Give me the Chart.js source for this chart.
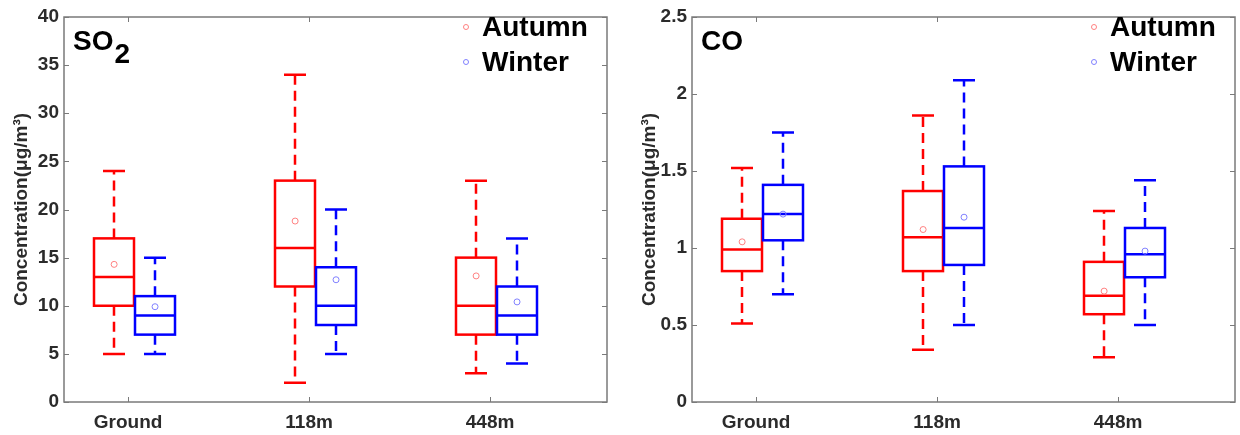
<!DOCTYPE html>
<html>
<head>
<meta charset="utf-8">
<title>SO2 / CO box plots</title>
<script src="https://cdn.jsdelivr.net/npm/chart.js@4.4.1/dist/chart.umd.min.js"></script>
<style>
  body { margin: 0; background: #fff; }
  .panel { position: absolute; top: 0; }
</style>
</head>
<body>
<canvas id="so2Chart" class="panel" width="620" height="435" style="left:0"></canvas>
<canvas id="coChart" class="panel" width="620" height="435" style="left:620px"></canvas>
<script>
  'use strict';

  var sites = ['Ground', '118m', '448m'];
  var seasons = ['Autumn', 'Winter'];

  // box stats per site: [min, q1, median, q3, max]
  var so2Autumn = [[5, 10, 13, 17, 24], [2, 12, 16, 23, 34], [3, 7, 10, 15, 23]];
  var so2Winter = [[5, 7, 9, 11, 15], [5, 8, 10, 14, 20], [4, 7, 9, 12, 17]];
  var so2AutumnMean = [14.3, 18.8, 13.1];
  var so2WinterMean = [9.9, 12.7, 10.4];
  var so2Ticks = [0, 5, 10, 15, 20, 25, 30, 35, 40];

  var coAutumn = [[0.51, 0.85, 0.99, 1.19, 1.52], [0.34, 0.85, 1.07, 1.37, 1.86], [0.29, 0.57, 0.69, 0.91, 1.24]];
  var coWinter = [[0.70, 1.05, 1.22, 1.41, 1.75], [0.50, 0.89, 1.13, 1.53, 2.09], [0.50, 0.81, 0.96, 1.13, 1.44]];
  var coAutumnMean = [1.04, 1.12, 0.72];
  var coWinterMean = [1.22, 1.20, 0.98];
  var coTicks = [0, 0.5, 1, 1.5, 2, 2.5];

  var FONT = '"Liberation Sans", Arial, Helvetica, sans-serif';
  var TEXT = '#2b2b2b';
  var AXIS = '#7a7a7a';

  // box drawing: whiskers dashed, caps and boxes solid
  var boxPlugin = {
    id: 'boxes',
    beforeDatasetsDraw: function (chart, args, opts) {
      var ctx = chart.ctx, xs = chart.scales.x, ys = chart.scales.y;
      opts.series.forEach(function (s) {
        s.stats.forEach(function (st, i) {
          var cx = Math.round(xs.getPixelForValue(i + 1 + s.offset));
          var lo = ys.getPixelForValue(st[0]);
          var q1 = ys.getPixelForValue(st[1]);
          var md = ys.getPixelForValue(st[2]);
          var q3 = ys.getPixelForValue(st[3]);
          var hi = ys.getPixelForValue(st[4]);
          ctx.save();
          ctx.strokeStyle = s.color;
          ctx.lineWidth = 2.5;
          ctx.setLineDash([10, 6]);
          ctx.beginPath();
          ctx.moveTo(cx, q3); ctx.lineTo(cx, hi);
          ctx.moveTo(cx, q1); ctx.lineTo(cx, lo);
          ctx.stroke();
          ctx.setLineDash([]);
          ctx.beginPath();
          ctx.moveTo(cx - 11, hi); ctx.lineTo(cx + 11, hi);
          ctx.moveTo(cx - 11, lo); ctx.lineTo(cx + 11, lo);
          ctx.moveTo(cx - 20, md); ctx.lineTo(cx + 20, md);
          ctx.stroke();
          ctx.strokeRect(cx - 20, q3, 40, q1 - q3);
          ctx.restore();
        });
      });
    }
  };

  // axes box with inward ticks on all four sides
  var framePlugin = {
    id: 'frame',
    afterDatasetsDraw: function (chart) {
      var ctx = chart.ctx, a = chart.chartArea;
      var xs = chart.scales.x, ys = chart.scales.y;
      ctx.save();
      ctx.strokeStyle = AXIS;
      ctx.lineWidth = 1.5;
      ctx.strokeRect(a.left, a.top, a.right - a.left, a.bottom - a.top);
      ctx.lineWidth = 1;
      ctx.beginPath();
      ys.ticks.forEach(function (t) {
        var y = Math.round(ys.getPixelForValue(t.value)) + 0.5;
        ctx.moveTo(a.left, y); ctx.lineTo(a.left + 5, y);
        ctx.moveTo(a.right, y); ctx.lineTo(a.right - 5, y);
      });
      xs.ticks.forEach(function (t) {
        var x = Math.round(xs.getPixelForValue(t.value)) + 0.5;
        ctx.moveTo(x, a.top); ctx.lineTo(x, a.top + 5);
        ctx.moveTo(x, a.bottom); ctx.lineTo(x, a.bottom - 5);
      });
      ctx.stroke();
      ctx.restore();
    },
    afterDraw: function (chart, args, opts) {
      var ctx = chart.ctx, a = chart.chartArea;
      ctx.save();
      ctx.fillStyle = '#000';
      ctx.textBaseline = 'alphabetic';
      ctx.font = 'bold 28px ' + FONT;
      ctx.fillText(opts.name, a.left + 9, a.top + 33);
      if (opts.sub) {
        var w = ctx.measureText(opts.name).width;
        ctx.fillText(opts.sub, a.left + 10 + w, a.top + 46);
      }
      // legend
      chart.data.datasets.forEach(function (ds, i) {
        var y = a.top + 10 + i * 35;
        ctx.beginPath();
        ctx.strokeStyle = ds.borderColor;
        ctx.lineWidth = 1;
        ctx.arc(a.right - 141, y, 2.5, 0, Math.PI * 2);
        ctx.stroke();
        ctx.fillStyle = '#000';
        ctx.textBaseline = 'middle';
        ctx.fillText(ds.label, a.right - 125, y + 1);
      });
      ctx.restore();
    }
  };

  function makePanel(id, p) {
    var series = [
      { stats: p.autumn, mean: p.autumnMean, color: '#ff0000', light: '#ff8080', offset: -0.077 },
      { stats: p.winter, mean: p.winterMean, color: '#0000ff', light: '#8080ff', offset: 0.149 }
    ];
    return new Chart(document.getElementById(id), {
      type: 'scatter',
      data: {
        datasets: series.map(function (s, k) {
          return {
            label: seasons[k],
            data: s.mean.map(function (m, i) { return { x: i + 1 + s.offset, y: m }; }),
            pointStyle: 'circle',
            pointRadius: 3,
            pointBorderWidth: 1,
            borderColor: s.light,
            backgroundColor: 'rgba(0,0,0,0)'
          };
        })
      },
      options: {
        responsive: false,
        animation: false,
        devicePixelRatio: 1,
        layout: { padding: { top: 17, right: p.padRight, left: 0, bottom: 0 } },
        plugins: {
          legend: { display: false },
          tooltip: { enabled: false },
          boxes: { series: series },
          frame: { name: p.name, sub: p.sub }
        },
        scales: {
          x: {
            type: 'linear',
            min: 0.646,
            max: 3.646,
            afterFit: function (s) { s.height = 33; },
            afterBuildTicks: function (s) {
              s.ticks = sites.map(function (n, i) { return { value: i + 1 }; });
            },
            grid: { display: false, drawTicks: false },
            border: { display: false },
            ticks: {
              padding: 9,
              color: TEXT,
              font: { family: FONT, size: 19, weight: 'bold' },
              callback: function (v) { return sites[v - 1]; }
            }
          },
          y: {
            min: p.ticks[0],
            max: p.ticks[p.ticks.length - 1],
            afterFit: function (s) { s.width = p.axisWidth; },
            afterBuildTicks: function (s) {
              s.ticks = p.ticks.map(function (v) { return { value: v }; });
            },
            grid: { display: false, drawTicks: false },
            border: { display: false },
            ticks: {
              padding: 5,
              color: TEXT,
              font: { family: FONT, size: 19, weight: 'bold' },
              callback: function (v) { return String(v); }
            },
            title: {
              display: true,
              text: 'Concentration(μg/m³)',
              color: TEXT,
              font: { family: FONT, size: 19, weight: 'bold' },
              padding: { top: p.titlePad, bottom: 0 }
            }
          }
        }
      },
      plugins: [boxPlugin, framePlugin]
    });
  }

  makePanel('so2Chart', {
    name: 'SO', sub: '2',
    autumn: so2Autumn, winter: so2Winter,
    autumnMean: so2AutumnMean, winterMean: so2WinterMean,
    ticks: so2Ticks, axisWidth: 64, padRight: 13, titlePad: 10
  });

  makePanel('coChart', {
    name: 'CO', sub: null,
    autumn: coAutumn, winter: coWinter,
    autumnMean: coAutumnMean, winterMean: coWinterMean,
    ticks: coTicks, axisWidth: 72, padRight: 5, titlePad: 18
  });
</script>
</body>
</html>
